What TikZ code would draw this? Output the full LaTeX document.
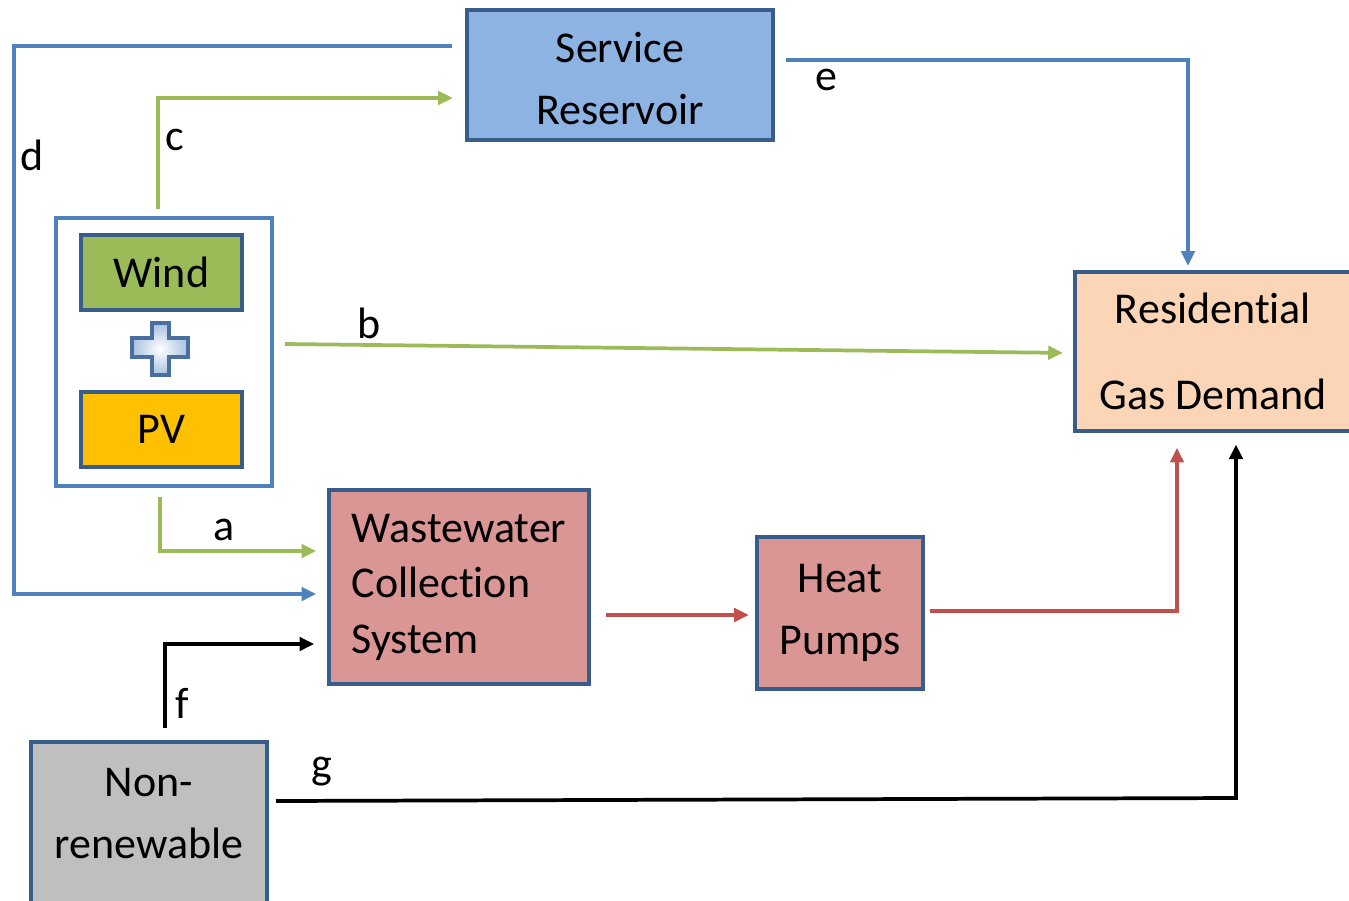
\documentclass[tikz,border=0pt]{standalone}
\usepackage{fontspec}
\setmainfont{Carlito}[Ligatures={NoCommon}]
\usetikzlibrary{arrows.meta}
\definecolor{edgeblue}{HTML}{385D8A}
\definecolor{groupblue}{HTML}{4F81BD}
\definecolor{linkblue}{HTML}{4F81BD}
\definecolor{linkgreen}{HTML}{9BBB59}
\definecolor{linkred}{HTML}{C0504D}
\definecolor{resfill}{HTML}{8DB3E2}
\definecolor{windfill}{HTML}{9BBB59}
\definecolor{pvfill}{HTML}{FFC000}
\definecolor{demandfill}{HTML}{FBD5B5}
\definecolor{wastefill}{HTML}{D99694}
\definecolor{greyfill}{HTML}{BFBFBF}
\definecolor{plusfill}{HTML}{A7C0E0}
\definecolor{plusedge}{HTML}{4A6E9E}
\begin{document}
\begin{tikzpicture}[x=0.75pt,y=-0.75pt,
  box/.style={draw=edgeblue, line width=3.2pt, inner sep=0pt, align=center,
    font=\fontsize{33}{46.5}\selectfont},
  group/.style={draw=groupblue, line width=2.6pt, inner sep=0pt, fill=white},
  flow/.style={line width=2.8pt, -{Triangle[length=11pt,width=10pt]}},
  bflow/.style={flow, draw=linkblue, color=linkblue},
  gflow/.style={flow, draw=linkgreen, color=linkgreen},
  rflow/.style={flow, draw=linkred, color=linkred},
  kflow/.style={flow, draw=black},
  lbl/.style={font=\fontsize{33}{40}\selectfont, inner sep=0pt}]
\useasboundingbox (0,0) rectangle (1349,900);
\clip (0,0) rectangle (1349,900);

% boxes
\node[box, fill=resfill, minimum width=229.5pt, minimum height=97.5pt]
  (srv) at (620,75) {\rule{0pt}{28pt}Service\\Reservoir};
\node[group, minimum width=162pt, minimum height=201pt] (grp) at (164,352) {};
\node[box, fill=windfill, minimum width=120.75pt, minimum height=56.25pt]
  (wind) at (161.5,272.5) {Wind};
\node[box, fill=pvfill, minimum width=120.75pt, minimum height=56.25pt]
  (pv) at (161.5,429.5) {PV};
\node[box, fill=demandfill, minimum width=207pt, minimum height=119.25pt,
  font=\fontsize{33}{65}\selectfont] (dem) at (1213,351.5) {Residential\\Gas Demand};
\node[box, fill=wastefill, minimum width=195pt, minimum height=145.5pt, align=left,
  font=\fontsize{33}{41.6}\selectfont] (ww) at (459,587) {Wastewater\\Collection\\System};
\node[box, fill=wastefill, minimum width=124.5pt, minimum height=114pt]
  (hp) at (840,613) {Heat\\Pumps};
\node[box, fill=greyfill, minimum width=177pt, minimum height=129.75pt]
  (nr) at (149,828.5) {};
\node[align=center, font=\fontsize{33}{46.5}\selectfont] (nrtext) at (149,814) {Non-\\renewable};

% plus sign between the two renewable sources
\draw[draw=plusedge, line width=2.6pt, inner color=white, outer color=plusfill]
  (152,323) -- (169,323) -- (169,338) -- (188,338) -- (188,357) -- (169,357)
  -- (169,375) -- (152,375) -- (152,357) -- (132,357) -- (132,338)
  -- (152,338) -- cycle;

% free ends and bends of the flows
\coordinate (dS) at (452,46);
\coordinate (dK) at (14,594);
\coordinate (cS) at (158,209);
\coordinate (cK) at (158,98);
\coordinate (eS) at (786,60);
\coordinate (eK) at (1188,60);
\coordinate (bS) at (285,344);
\coordinate (bK) at (1065,353);
\coordinate (aS) at (160,497);
\coordinate (aK) at (160,551);
\coordinate (rS) at (606,615);
\coordinate (r2S) at (930,611);
\coordinate (r2K) at (1177,611);
\coordinate (fS) at (165,728);
\coordinate (fK) at (165,644);
\coordinate (gS) at (276,801);
\coordinate (gK) at (1236,798);

% flows
\draw[bflow, shorten >=8pt] (dS) -| (dK) -- (dK -| ww.west);
\draw[gflow, shorten >=9pt] (cS) |- (cK -| srv.west);
\draw[bflow, shorten >=3pt] (eS) -| (eK |- dem.north);
\draw[gflow, shorten >=7.5pt] (bS) -- (bK -| dem.west);
\draw[gflow, shorten >=8pt] (aS) |- (aK -| ww.west);
\draw[rflow, shorten >=4.5pt] (rS) -- (rS -| hp.west);
\draw[rflow, shorten >=11pt] (r2S) -- (r2K) -- (r2K |- dem.south);
\draw[kflow, shorten >=9.5pt] (fS) |- (fK -| ww.west);
\draw[kflow, shorten >=8.5pt] (gS) -- (gK) -- (gK |- dem.south);

% flow labels
\node[lbl] (la) at (224,530) {a};
\node[lbl] (lb) at (369,323) {b};
\node[lbl] (lc) at (175,140) {c};
\node[lbl] (ld) at (32,155) {d};
\node[lbl] (le) at (826,80) {e};
\node[lbl] (lf) at (182,703) {f};
\node[lbl] (lg) at (322,772) {g};
\end{tikzpicture}
\end{document}
